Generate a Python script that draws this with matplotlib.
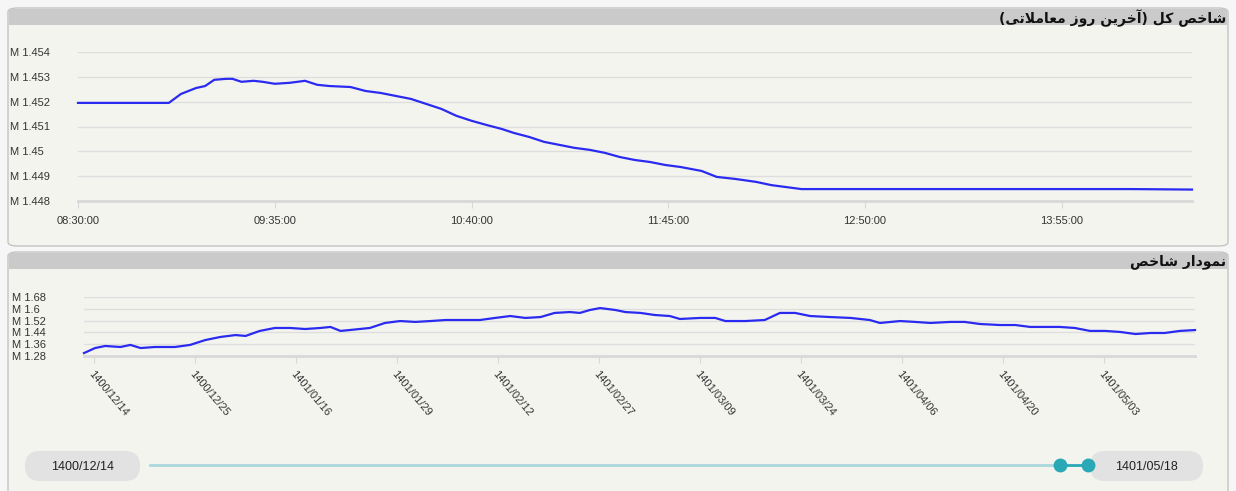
import matplotlib
matplotlib.use("Agg")
import matplotlib.pyplot as plt
from matplotlib.patches import FancyBboxPatch, Rectangle
from matplotlib.lines import Line2D

W, H = 1236, 491

# top chart: minutes after 08:30 and index value (millions)
top_minutes = [0, 30, 34, 39, 42, 45, 49, 51, 54, 58, 61, 65, 70, 75, 79, 83, 90, 95, 100,
               105, 110, 115, 120, 125, 130, 135, 140, 144, 149, 154, 159, 164, 169, 174,
               179, 184, 189, 194, 199, 206, 211, 217, 224, 229, 234, 239, 245, 305, 348, 368]
top_values = [1.45195, 1.45195, 1.45231, 1.45255, 1.45263, 1.45288, 1.45292, 1.45292, 1.4528,
              1.45284, 1.4528, 1.45272, 1.45276, 1.45284, 1.45268, 1.45263, 1.45259, 1.45243,
              1.45235, 1.45223, 1.45211, 1.45191, 1.45171, 1.45143, 1.45123, 1.45106, 1.4509,
              1.45074, 1.45058, 1.45038, 1.45026, 1.45014, 1.45006, 1.44994, 1.44977, 1.44965,
              1.44957, 1.44945, 1.44937, 1.44921, 1.44897, 1.44889, 1.44877, 1.44864, 1.44856,
              1.44848, 1.44848, 1.44848, 1.44848, 1.44846]
top_ticks = [0, 65, 130, 195, 260, 325]
top_tick_labels = ["08:30:00", "09:35:00", "10:40:00", "11:45:00", "12:50:00", "13:55:00"]
top_yticks = [1.448, 1.449, 1.45, 1.451, 1.452, 1.453, 1.454]

# bottom chart: trading day position and index value (millions)
days = [-1.0, 0.1, 1.1, 2.6, 3.6, 4.6, 6.0, 8.0, 9.5, 11.0, 12.5, 14.0, 15.0, 16.4, 17.9,
        19.4, 20.9, 22.4, 23.4, 24.4, 25.3, 27.3, 28.8, 30.3, 31.8, 33.3, 34.8, 36.2, 38.2,
        39.7, 41.2, 42.7, 44.2, 45.6, 47.1, 48.1, 49.1, 50.1, 51.6, 52.6, 54.1, 55.5, 57.0,
        58.0, 60.0, 61.5, 62.5, 64.5, 66.4, 67.9, 69.4, 70.9, 72.9, 74.9, 76.8, 77.8, 79.8,
        81.3, 82.8, 84.8, 86.2, 87.7, 89.7, 91.2, 92.7, 94.2, 95.6, 97.1, 98.6, 100.1, 101.6,
        103.1, 104.6, 106.0, 107.5, 109.0]
day_values = [1.300, 1.334, 1.348, 1.341, 1.355, 1.334, 1.341, 1.341, 1.355, 1.388, 1.409,
              1.422, 1.416, 1.450, 1.470, 1.470, 1.463, 1.470, 1.477, 1.450, 1.456, 1.470,
              1.504, 1.517, 1.511, 1.517, 1.524, 1.524, 1.524, 1.538, 1.551, 1.538, 1.544,
              1.572, 1.578, 1.572, 1.592, 1.605, 1.592, 1.578, 1.572, 1.558, 1.551, 1.531,
              1.538, 1.538, 1.517, 1.517, 1.524, 1.572, 1.572, 1.551, 1.544, 1.538, 1.524,
              1.504, 1.517, 1.511, 1.504, 1.511, 1.511, 1.497, 1.490, 1.490, 1.477, 1.477,
              1.477, 1.470, 1.450, 1.450, 1.443, 1.429, 1.436, 1.436, 1.450, 1.456]
day_ticks = [0, 10, 20, 30, 40, 50, 60, 70, 80, 90, 100, 110]
day_tick_labels = ["1400/12/14", "1400/12/25", "1401/01/16", "1401/01/29", "1401/02/12",
                   "1401/02/27", "1401/03/09", "1401/03/24", "1401/04/06", "1401/04/20",
                   "1401/05/03", "1401/05/17"]
bottom_yticks = [1.28, 1.36, 1.44, 1.52, 1.6, 1.68]
range_start = "1400/12/14"
range_end = "1401/05/18"
title_top = "شاخص کل (آخرین روز معاملاتی)"
title_bottom = "نمودار شاخص"

# minimal arabic shaping (matplotlib does no shaping / bidi)
FORMS = {
    'ا': (0xFE8D, 0xFE8E, None, None), 'آ': (0xFE81, 0xFE82, None, None),
    'د': (0xFEA9, 0xFEAA, None, None), 'ر': (0xFEAD, 0xFEAE, None, None),
    'ز': (0xFEAF, 0xFEB0, None, None), 'و': (0xFEED, 0xFEEE, None, None),
    'ت': (0xFE95, 0xFE96, 0xFE97, 0xFE98), 'ج': (0xFE9D, 0xFE9E, 0xFE9F, 0xFEA0),
    'خ': (0xFEA5, 0xFEA6, 0xFEA7, 0xFEA8), 'ش': (0xFEB5, 0xFEB6, 0xFEB7, 0xFEB8),
    'ص': (0xFEB9, 0xFEBA, 0xFEBB, 0xFEBC), 'ع': (0xFEC9, 0xFECA, 0xFECB, 0xFECC),
    'ک': (0xFB8E, 0xFB8F, 0xFB90, 0xFB91), 'ل': (0xFEDD, 0xFEDE, 0xFEDF, 0xFEE0),
    'م': (0xFEE1, 0xFEE2, 0xFEE3, 0xFEE4), 'ن': (0xFEE5, 0xFEE6, 0xFEE7, 0xFEE8),
    'ی': (0xFBFC, 0xFBFD, 0xFBFE, 0xFBFF),
}


def shape(s):
    out = []
    i = 0
    prev_joins = False
    while i < len(s):
        c = s[i]
        nxt = s[i + 1] if i + 1 < len(s) else ''
        if c not in FORMS:
            out.append(c)
            prev_joins = False
            i += 1
            continue
        if c == 'ل' and nxt == 'ا':
            out.append(chr(0xFEFC if prev_joins else 0xFEFB))
            prev_joins = False
            i += 2
            continue
        f = FORMS[c]
        dual = f[2] is not None
        next_joins = dual and nxt in FORMS
        if prev_joins and next_joins:
            out.append(chr(f[3]))
        elif prev_joins:
            out.append(chr(f[1]))
        elif next_joins:
            out.append(chr(f[2]))
        else:
            out.append(chr(f[0]))
        prev_joins = dual
        i += 1
    vis = ''.join(reversed(out))
    return vis.translate(str.maketrans('()', ')('))


def box(x0, y0, x1, y1):
    # pixel box (top-left origin) -> figure fractions
    return [x0 / W, 1 - y1 / H, (x1 - x0) / W, (y1 - y0) / H]


fig = plt.figure(figsize=(W / 100, H / 100), dpi=100, facecolor="#f6f6f6")
fig_tr = fig.transFigure

for (py0, py1, title) in [(8, 246, title_top), (252, 495, title_bottom)]:
    b = box(8, py0, 1228, py1)
    fig.add_artist(FancyBboxPatch((b[0], b[1]), b[2], b[3], boxstyle="round,pad=0,rounding_size=0.008",
                                  transform=fig_tr, facecolor="#f4f4ef", edgecolor="#c4c4c4", lw=1,
                                  zorder=-2))
    hb = box(9, py0 + 1, 1227, py0 + 17)
    fig.add_artist(Rectangle((hb[0], hb[1]), hb[2], hb[3], transform=fig_tr,
                             facecolor="#cacaca", edgecolor="none", zorder=-1))
    fig.text(1226 / W, 1 - (py0 + 10) / H, shape(title), ha="right", va="center",
             fontsize=10, fontweight="bold", family=["DejaVu Sans"], color="#111")


def style(ax, yticks, labels):
    ax.set_facecolor("none")
    for s in ax.spines.values():
        s.set_visible(False)
    ax.set_yticks(yticks)
    ax.set_yticklabels(labels, fontsize=8, color="#333", family="Liberation Sans")
    for t in ax.get_yticklabels():
        t.set_ha("left")
    ax.grid(axis="y", color="#dedede", lw=1)
    ax.set_axisbelow(True)


# top chart
ax1 = fig.add_axes(box(78, 52, 1192, 201))
ax1.plot(top_minutes, top_values, color="#2a2af0", lw=1.6, clip_on=False)
ax1.set_xlim(0, 368)
ax1.set_ylim(1.448, 1.454)
style(ax1, top_yticks, ["M " + format(v, "g") for v in top_yticks])
ax1.tick_params(axis="y", length=0, pad=49)
ax1.spines["bottom"].set_visible(True)
ax1.spines["bottom"].set_color("#d8d8d8")
ax1.spines["bottom"].set_linewidth(2)
ax1.set_xticks(top_ticks)
ax1.set_xticklabels(top_tick_labels, fontsize=8, color="#333", family="Liberation Sans")
ax1.tick_params(axis="x", length=5, color="#d8d8d8", pad=6)

# bottom chart
ax2 = fig.add_axes(box(84, 297, 1195, 356))
ax2.plot(days, day_values, color="#2a2af0", lw=1.6, clip_on=False)
ax2.set_xlim(-1, 109)
ax2.set_ylim(1.28, 1.68)
style(ax2, bottom_yticks, ["M " + format(v, "g") for v in bottom_yticks])
ax2.tick_params(axis="y", length=0, pad=52)
ax2.spines["bottom"].set_visible(True)
ax2.spines["bottom"].set_color("#d8d8d8")
ax2.spines["bottom"].set_linewidth(2)
ax2.set_xticks(day_ticks)
ax2.set_xticklabels(day_tick_labels, fontsize=8, color="#333", family="Liberation Sans",
                    rotation=-50, ha="left", va="top", rotation_mode="anchor")
ax2.tick_params(axis="x", length=5, color="#d8d8d8", pad=4)
ax2.set_xlim(-1, 109)

# range slider
def fx(x):
    return x / W


def fy(y):
    return 1 - y / H


fig.add_artist(Line2D([fx(150), fx(1060)], [fy(465), fy(465)], transform=fig_tr,
                      color="#a9d9dd", lw=2))
fig.add_artist(Line2D([fx(1060), fx(1088)], [fy(465), fy(465)], transform=fig_tr,
                      color="#2aa8b6", lw=2))
for hx in (1060, 1088):
    fig.add_artist(Line2D([fx(hx)], [fy(465)], transform=fig_tr, marker="o", ms=9,
                          color="#2aa8b6", lw=0))
for (x0, x1, label) in [(25, 140, range_start), (1090, 1203, range_end)]:
    b = box(x0, 451, x1, 481)
    fig.add_artist(FancyBboxPatch((b[0], b[1]), b[2], b[3],
                                  boxstyle="round,pad=0,rounding_size=0.012",
                                  mutation_aspect=W / H, transform=fig_tr,
                                  facecolor="#e2e2e2", edgecolor="none"))
    fig.text(fx((x0 + x1) / 2), fy(467), label, ha="center", va="center",
             fontsize=9, color="#222", family="Liberation Sans")

fig.savefig("out.png", dpi=100, facecolor=fig.get_facecolor())
